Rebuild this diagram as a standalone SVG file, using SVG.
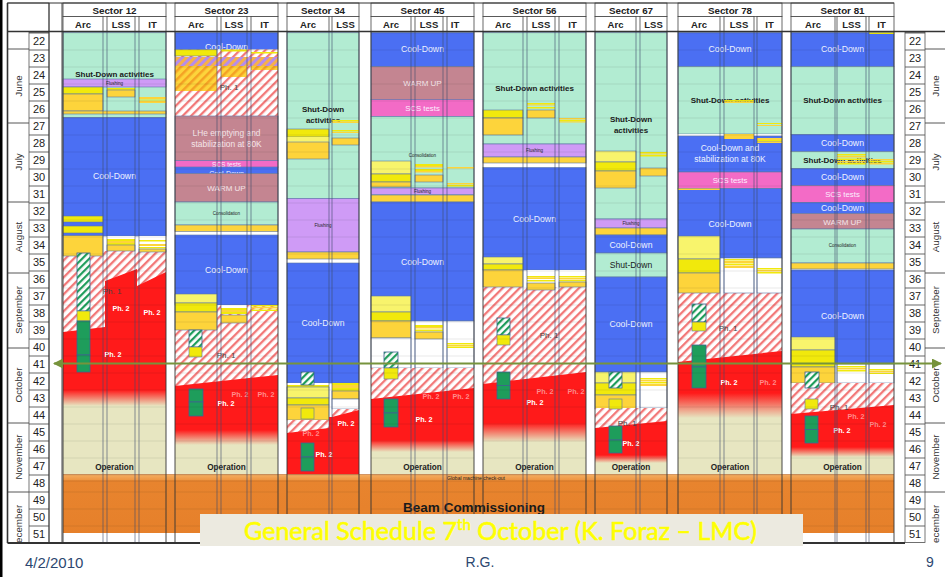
<svg xmlns="http://www.w3.org/2000/svg" width="945" height="577" viewBox="0 0 945 577">
<defs>
<style>
text{font-family:"Liberation Sans",Arial,sans-serif}
.m{fill:#B2ECD2}.b{fill:#4B6FF3}.p{fill:#CF9BF6}.w{fill:#C48591}.k{fill:#F36BC6}.y{fill:#F1E90C}.ly{fill:#F8F46C}.o{fill:#FDD43B}.wh{fill:#fff}.h{fill:url(#hr)}.bg{fill:#E7E6C1}.ph{fill:url(#hp)}.oh{fill:url(#ho)}
.bd{stroke:#5B75A6;stroke-width:0.6}
.gh{fill:url(#hg);stroke:#3F6390;stroke-width:0.8}
.dg{fill:#1E9D5B;stroke:#3F6390;stroke-width:0.8}
.hc{fill:#fff;stroke:#444;stroke-width:0.8}
.hd{font-size:9.8px;font-weight:bold;fill:#222;text-anchor:middle}
.sh{font-size:9.5px;font-weight:bold;fill:#222;text-anchor:middle}
.wk{font-size:11px;fill:#222;text-anchor:middle}
.mo{font-size:9.8px;fill:#333;text-anchor:middle}
.cd{font-size:8.7px;fill:#EEF2FF;text-anchor:middle}
.sd{font-size:8px;font-weight:bold;fill:#1a1a1a;text-anchor:middle}
.op{font-size:8.2px;font-weight:bold;fill:#222;text-anchor:middle}
.p2{font-size:7.2px;font-weight:bold;fill:#fff;text-anchor:middle}
.pf{font-size:7.2px;font-weight:bold;fill:#FF8C8C;text-anchor:middle}
.p1{font-size:8px;fill:#444;text-anchor:middle}
.tn{font-size:4.5px;fill:#222;text-anchor:middle}
.wu{font-size:8px;fill:#F5E6EA;text-anchor:middle}
.sc{font-size:7.8px;fill:#FBEFFF;text-anchor:middle}
.vl{fill:none;stroke:#3C4C6C;stroke-width:0.8;stroke-opacity:0.75}
</style>
<pattern id="hr" width="6" height="6" patternUnits="userSpaceOnUse" patternTransform="rotate(-45)"><rect width="6" height="6" fill="#fff"/><rect width="6" height="2.3" fill="#F27878"/></pattern>
<pattern id="hg" width="5" height="5" patternUnits="userSpaceOnUse" patternTransform="rotate(-45)"><rect width="5" height="5" fill="#fff"/><rect width="5" height="2.2" fill="#1E9D5B"/></pattern>
<pattern id="hp" width="6" height="6" patternUnits="userSpaceOnUse" patternTransform="rotate(-45)"><rect width="6" height="6" fill="#F6B04A"/><rect width="6" height="3" fill="#B58CEB"/></pattern>
<pattern id="ho" width="6" height="6" patternUnits="userSpaceOnUse" patternTransform="rotate(-45)"><rect width="6" height="6" fill="#FDD43B"/><rect width="6" height="2.5" fill="#F4A224"/></pattern>
<pattern id="rows" width="10" height="17" patternUnits="userSpaceOnUse" x="0" y="32.5"><rect width="10" height="0.8" fill="#000" fill-opacity="0.1"/></pattern>
<pattern id="wkp" width="20" height="17" patternUnits="userSpaceOnUse" x="0" y="32.5"><rect width="20" height="0.9" fill="#555"/></pattern>
<linearGradient id="f12" gradientUnits="userSpaceOnUse" x1="0" y1="390" x2="0" y2="406"><stop offset="0" stop-color="#FF1A1A"/><stop offset="1" stop-color="#FF1A1A" stop-opacity="0"/></linearGradient>
<linearGradient id="f23" gradientUnits="userSpaceOnUse" x1="0" y1="430" x2="0" y2="445"><stop offset="0" stop-color="#FF1A1A"/><stop offset="1" stop-color="#FF1A1A" stop-opacity="0"/></linearGradient>
<linearGradient id="f45" gradientUnits="userSpaceOnUse" x1="0" y1="440" x2="0" y2="452"><stop offset="0" stop-color="#FF1A1A"/><stop offset="1" stop-color="#FF1A1A" stop-opacity="0"/></linearGradient>
<linearGradient id="f56" gradientUnits="userSpaceOnUse" x1="0" y1="423" x2="0" y2="442"><stop offset="0" stop-color="#FF1A1A"/><stop offset="1" stop-color="#FF1A1A" stop-opacity="0"/></linearGradient>
<linearGradient id="f67" gradientUnits="userSpaceOnUse" x1="0" y1="455" x2="0" y2="463"><stop offset="0" stop-color="#FF1A1A"/><stop offset="1" stop-color="#FF1A1A" stop-opacity="0"/></linearGradient>
<linearGradient id="f78" gradientUnits="userSpaceOnUse" x1="0" y1="393" x2="0" y2="418"><stop offset="0" stop-color="#FF1A1A"/><stop offset="1" stop-color="#FF1A1A" stop-opacity="0"/></linearGradient>
<linearGradient id="f81" gradientUnits="userSpaceOnUse" x1="0" y1="447" x2="0" y2="457"><stop offset="0" stop-color="#FF1A1A"/><stop offset="1" stop-color="#FF1A1A" stop-opacity="0"/></linearGradient>
<linearGradient id="og" gradientUnits="userSpaceOnUse" x1="0" y1="474.5" x2="0" y2="533"><stop offset="0" stop-color="#F4AE62"/><stop offset="0.1" stop-color="#EE9440"/><stop offset="0.13" stop-color="#E8842E"/><stop offset="1" stop-color="#E6802A"/></linearGradient>
<clipPath id="clipB"><rect x="0" y="0" width="945" height="543"/></clipPath>
<marker id="ah" viewBox="0 0 10 10" refX="9" refY="5" markerWidth="5.5" markerHeight="5" orient="auto-start-reverse" markerUnits="strokeWidth"><path d="M0,0L10,5L0,10Z" fill="#77933C"/></marker>
</defs>
<rect width="945" height="577" fill="#fff"/>
<rect x="0" y="0" width="2.5" height="577" fill="#000"/>

<g id="axis-left">
<rect x="7.5" y="3" width="41.5" height="28.5" fill="#fff" stroke="#444" stroke-width="0.8"/>
<rect x="29" y="32.5" width="20" height="510" fill="url(#wkp)" stroke="#555" stroke-width="0.8"/>
<path d="M8,49H29M8,123H29M8,202H29M8,273H29M8,348H29M8,423H29M8,492H29" stroke="#444" stroke-width="0.9"/>
<g clip-path="url(#clipB)">
<text class="mo" transform="translate(21.5,86) rotate(-90)">June</text>
<text class="mo" transform="translate(21.5,162) rotate(-90)">July</text>
<text class="mo" transform="translate(21.5,237) rotate(-90)">August</text>
<text class="mo" transform="translate(21.5,310) rotate(-90)">September</text>
<text class="mo" transform="translate(21.5,385) rotate(-90)">October</text>
<text class="mo" transform="translate(21.5,457) rotate(-90)">November</text>
<text class="mo" transform="translate(21.5,550) rotate(-90)" style="text-anchor:start">December</text>
</g>
<text class="wk" x="39" y="45">22</text><text class="wk" x="39" y="62">23</text><text class="wk" x="39" y="79">24</text><text class="wk" x="39" y="96">25</text><text class="wk" x="39" y="113">26</text><text class="wk" x="39" y="130">27</text><text class="wk" x="39" y="147">28</text><text class="wk" x="39" y="164">29</text><text class="wk" x="39" y="181">30</text><text class="wk" x="39" y="198">31</text><text class="wk" x="39" y="215">32</text><text class="wk" x="39" y="232">33</text><text class="wk" x="39" y="249">34</text><text class="wk" x="39" y="266">35</text><text class="wk" x="39" y="283">36</text><text class="wk" x="39" y="300">37</text><text class="wk" x="39" y="317">38</text><text class="wk" x="39" y="334">39</text><text class="wk" x="39" y="351">40</text><text class="wk" x="39" y="368">41</text><text class="wk" x="39" y="385">42</text><text class="wk" x="39" y="402">43</text><text class="wk" x="39" y="419">44</text><text class="wk" x="39" y="436">45</text><text class="wk" x="39" y="453">46</text><text class="wk" x="39" y="470">47</text><text class="wk" x="39" y="487">48</text><text class="wk" x="39" y="504">49</text><text class="wk" x="39" y="521">50</text><text class="wk" x="39" y="538">51</text>
</g>
<g id="axis-right">
<rect x="905" y="32.5" width="20" height="510" fill="url(#wkp)" stroke="#555" stroke-width="0.8"/>
<path d="M925,49H945M925,123H945M925,202H945M925,273H945M925,348H945M925,423H945M925,492H945" stroke="#444" stroke-width="0.9"/>
<g clip-path="url(#clipB)">
<text class="mo" transform="translate(938.5,86) rotate(-90)">June</text>
<text class="mo" transform="translate(938.5,162) rotate(-90)">July</text>
<text class="mo" transform="translate(938.5,237) rotate(-90)">August</text>
<text class="mo" transform="translate(938.5,310) rotate(-90)">September</text>
<text class="mo" transform="translate(938.5,385) rotate(-90)">October</text>
<text class="mo" transform="translate(938.5,457) rotate(-90)">November</text>
<text class="mo" transform="translate(938.5,550) rotate(-90)" style="text-anchor:start">December</text>
</g>
<text class="wk" x="915" y="45">22</text><text class="wk" x="915" y="62">23</text><text class="wk" x="915" y="79">24</text><text class="wk" x="915" y="96">25</text><text class="wk" x="915" y="113">26</text><text class="wk" x="915" y="130">27</text><text class="wk" x="915" y="147">28</text><text class="wk" x="915" y="164">29</text><text class="wk" x="915" y="181">30</text><text class="wk" x="915" y="198">31</text><text class="wk" x="915" y="215">32</text><text class="wk" x="915" y="232">33</text><text class="wk" x="915" y="249">34</text><text class="wk" x="915" y="266">35</text><text class="wk" x="915" y="283">36</text><text class="wk" x="915" y="300">37</text><text class="wk" x="915" y="317">38</text><text class="wk" x="915" y="334">39</text><text class="wk" x="915" y="351">40</text><text class="wk" x="915" y="368">41</text><text class="wk" x="915" y="385">42</text><text class="wk" x="915" y="402">43</text><text class="wk" x="915" y="419">44</text><text class="wk" x="915" y="436">45</text><text class="wk" x="915" y="453">46</text><text class="wk" x="915" y="470">47</text><text class="wk" x="915" y="487">48</text><text class="wk" x="915" y="504">49</text><text class="wk" x="915" y="521">50</text><text class="wk" x="915" y="538">51</text>
</g>

<g id="header">
<rect class="hc" x="63" y="3" width="103" height="13.5"/><text class="hd" x="114.5" y="13.5">Sector 12</text>
<rect class="hc" x="63" y="16.5" width="40" height="15"/><rect class="hc" x="107" y="16.5" width="28" height="15"/><rect class="hc" x="139" y="16.5" width="27" height="15"/>
<text class="sh" x="83" y="27.5">Arc</text><text class="sh" x="121" y="27.5">LSS</text><text class="sh" x="152.5" y="27.5">IT</text>
<rect class="hc" x="175" y="3" width="103" height="13.5"/><text class="hd" x="226.5" y="13.5">Sector 23</text>
<rect class="hc" x="175" y="16.5" width="42" height="15"/><rect class="hc" x="221" y="16.5" width="26" height="15"/><rect class="hc" x="251" y="16.5" width="27" height="15"/>
<text class="sh" x="196" y="27.5">Arc</text><text class="sh" x="234" y="27.5">LSS</text><text class="sh" x="264.5" y="27.5">IT</text>
<rect class="hc" x="287" y="3" width="72" height="13.5"/><text class="hd" x="323" y="13.5">Sector 34</text>
<rect class="hc" x="287" y="16.5" width="42" height="15"/><rect class="hc" x="332" y="16.5" width="27" height="15"/>
<text class="sh" x="308" y="27.5">Arc</text><text class="sh" x="345.5" y="27.5">LSS</text>
<rect class="hc" x="371" y="3" width="103" height="13.5"/><text class="hd" x="422.5" y="13.5">Sector 45</text>
<rect class="hc" x="371" y="16.5" width="40" height="15"/><rect class="hc" x="415" y="16.5" width="28" height="15"/><rect class="hc" x="447" y="16.5" width="27" height="15"/>
<text class="sh" x="391" y="27.5">Arc</text><text class="sh" x="429" y="27.5">LSS</text><text class="sh" x="455" y="27.5">IT</text>
<rect class="hc" x="483" y="3" width="103" height="13.5"/><text class="hd" x="534.5" y="13.5">Sector 56</text>
<rect class="hc" x="483" y="16.5" width="40" height="15"/><rect class="hc" x="527" y="16.5" width="28" height="15"/><rect class="hc" x="559" y="16.5" width="27" height="15"/>
<text class="sh" x="503" y="27.5">Arc</text><text class="sh" x="541" y="27.5">LSS</text><text class="sh" x="572.5" y="27.5">IT</text>
<rect class="hc" x="595" y="3" width="72" height="13.5"/><text class="hd" x="631" y="13.5">Sector 67</text>
<rect class="hc" x="595" y="16.5" width="41" height="15"/><rect class="hc" x="640" y="16.5" width="27" height="15"/>
<text class="sh" x="615.5" y="27.5">Arc</text><text class="sh" x="653.5" y="27.5">LSS</text>
<rect class="hc" x="678" y="3" width="104" height="13.5"/><text class="hd" x="730" y="13.5">Sector 78</text>
<rect class="hc" x="678" y="16.5" width="42" height="15"/><rect class="hc" x="724" y="16.5" width="30" height="15"/><rect class="hc" x="757" y="16.5" width="25" height="15"/>
<text class="sh" x="699" y="27.5">Arc</text><text class="sh" x="739" y="27.5">LSS</text><text class="sh" x="769.5" y="27.5">IT</text>
<rect class="hc" x="791" y="3" width="103" height="13.5"/><text class="hd" x="842.5" y="13.5">Sector 81</text>
<rect class="hc" x="791" y="16.5" width="44" height="15"/><rect class="hc" x="837" y="16.5" width="29" height="15"/><rect class="hc" x="869" y="16.5" width="25" height="15"/>
<text class="sh" x="813" y="27.5">Arc</text><text class="sh" x="851.5" y="27.5">LSS</text><text class="sh" x="881.5" y="27.5">IT</text>
</g>

<g id="sector12">
<rect class="m bd" x="63" y="32.5" width="103" height="85"/>
<text class="sd" x="114.5" y="77">Shut-Down activities</text>
<rect class="p bd" x="63" y="79" width="103" height="8"/>
<text class="tn" x="114.5" y="84.5">Flushing</text>
<rect class="y bd" x="63" y="87" width="40" height="7"/>
<rect class="o bd" x="63" y="94" width="40" height="17"/>
<rect class="y" x="107" y="88" width="28" height="2"/>
<rect class="o bd" x="107" y="90" width="28" height="7"/>
<rect class="o" x="139" y="97" width="27" height="2"/><rect class="y" x="139" y="99.5" width="27" height="1"/><rect class="o" x="139" y="101" width="27" height="2"/>
<rect class="o bd" x="63" y="111" width="103" height="3"/>
<rect class="b bd" x="63" y="117.5" width="103" height="118.5"/>
<text class="cd" x="114.5" y="179">Cool-Down</text>
<rect class="h" x="63" y="251" width="103" height="90"/>
<rect class="y bd" x="63" y="216" width="40" height="6"/>
<rect class="y bd" x="63" y="226" width="40" height="7"/>
<rect class="o bd" x="63" y="235.5" width="40" height="20.5"/>
<rect class="wh" x="107" y="236" width="28" height="3"/><rect class="y" x="107" y="239" width="28" height="2"/><rect class="o" x="107" y="241" width="28" height="2"/><rect class="y" x="107" y="243" width="28" height="2"/><rect class="o bd" x="107" y="245" width="28" height="6"/>
<rect class="wh" x="139" y="236" width="27" height="16"/><rect class="y" x="139" y="240" width="27" height="1.5"/><rect class="o" x="139" y="244" width="27" height="2"/><rect class="y" x="139" y="247" width="27" height="1.5"/><rect class="o bd" x="139" y="249" width="27" height="3"/>
<rect class="bg" x="63" y="390" width="103" height="84.5"/>
<path fill="url(#f12)" d="M63,332L105,327L105,281L137,269L137,286L166,272V406H63Z"/>
<text class="p1" x="112" y="294">Ph. 1</text>
<text class="p2" x="121" y="311">Ph. 2</text>
<text class="p2" x="152" y="315">Ph. 2</text>
<text class="p2" x="113" y="357">Ph. 2</text>
<rect class="gh" x="77" y="253" width="13" height="58"/>
<rect class="y bd" x="77" y="311" width="13" height="10"/>
<rect class="dg" x="77" y="321" width="13" height="34"/><rect class="dg" x="77" y="355" width="13" height="17"/>
<text class="op" x="114.5" y="470">Operation</text>
</g>

<g id="sector23">
<rect class="b bd" x="175" y="32.5" width="103" height="17"/>
<text class="cd" x="226.5" y="50">Cool-Down</text>
<rect class="h" x="175" y="49.5" width="103" height="66.5"/>
<rect class="y bd" x="175" y="49.5" width="42" height="6.5"/>
<rect class="y" x="221" y="49.5" width="26" height="2"/>
<rect class="y" x="251" y="52" width="27" height="1.5"/>
<rect class="ph" x="175" y="57" width="103" height="9"/>
<rect class="oh" x="175" y="66" width="42" height="25"/>
<rect class="oh" x="221" y="66" width="26" height="11"/>
<rect class="oh" x="251" y="66" width="27" height="4"/>
<text class="p1" x="229" y="90">Ph. 1</text>
<rect class="w bd" x="175" y="116" width="103" height="44.5"/>
<text class="cd" x="226.5" y="136" style="font-size:8.4px;fill:#F5E6EA">LHe emptying and</text>
<text class="cd" x="226.5" y="147" style="font-size:8.4px;fill:#F5E6EA">stabilization at 80K</text>
<rect class="k bd" x="175" y="160.5" width="103" height="7"/>
<text class="sc" x="226.5" y="166.5" style="font-size:6.5px">SCS tests</text>
<rect class="b bd" x="175" y="167" width="103" height="6.5"/>
<text class="cd" x="226.5" y="175.5" style="font-size:7px">Cool-Down</text>
<rect class="w bd" x="175" y="173.5" width="103" height="28.5"/>
<text class="wu" x="226.5" y="191">WARM UP</text>
<rect class="m bd" x="175" y="202" width="103" height="23"/>
<text class="tn" x="226.5" y="214.5">Consolidation</text>
<rect class="o bd" x="175" y="225" width="103" height="6.5"/>
<rect class="b bd" x="175" y="235" width="103" height="70"/>
<text class="cd" x="226.5" y="273">Cool-Down</text>
<rect class="h" x="175" y="305" width="103" height="85"/>
<rect class="ly bd" x="175" y="294" width="42" height="9"/>
<rect class="y bd" x="175" y="303" width="42" height="9"/>
<rect class="o bd" x="175" y="312" width="42" height="18"/>
<rect class="wh" x="221" y="305" width="26" height="3"/><rect class="y" x="221" y="308" width="26" height="2"/><rect class="o" x="221" y="310" width="26" height="2"/><rect class="y" x="221" y="312" width="26" height="2"/><rect class="o bd" x="221" y="315" width="26" height="8"/>
<rect class="y" x="251" y="305" width="27" height="1.5"/><rect class="o" x="251" y="307" width="27" height="1.5"/><rect class="y" x="251" y="309.5" width="27" height="1.5"/>
<rect class="gh" x="189" y="330" width="13" height="17"/>
<rect class="y bd" x="189" y="347" width="13" height="10"/>
<text class="p1" x="226" y="358">Ph. 1</text>
<rect class="bg" x="175" y="430" width="103" height="44.5"/>
<path fill="url(#f23)" d="M175,386L278,375V445H175Z"/>
<text class="pf" x="240" y="397">Ph. 2</text><text class="pf" x="266" y="397">Ph. 2</text>
<rect class="dg" x="189" y="389" width="14" height="13"/><rect class="dg" x="189" y="402" width="14" height="14"/>
<text class="p2" x="226" y="406">Ph. 2</text>
<text class="op" x="226.5" y="470">Operation</text>
</g>

<g id="sector34">
<rect class="m bd" x="287" y="32.5" width="72" height="166"/>
<text class="sd" x="323" y="112">Shut-Down</text>
<text class="sd" x="323" y="123">activities</text>
<rect class="y" x="332" y="120" width="27" height="1.5"/><rect class="o" x="332" y="121.5" width="27" height="1.5"/><rect class="y" x="332" y="130" width="27" height="1.5"/><rect class="o" x="332" y="132" width="27" height="1"/>
<rect class="o bd" x="332" y="138" width="27" height="7"/>
<rect class="y bd" x="287" y="129" width="42" height="8"/>
<rect class="ly" x="287" y="137" width="42" height="5"/>
<rect class="o bd" x="287" y="142" width="42" height="17"/>
<rect class="p bd" x="287" y="198.5" width="72" height="53.5"/>
<text class="tn" x="323" y="227">Flushing</text>
<rect class="o bd" x="287" y="252" width="72" height="7"/>
<rect class="b bd" x="287" y="263" width="72" height="120"/>
<text class="cd" x="323" y="326">Cool-Down</text>
<rect class="wh" x="287" y="383" width="42" height="2"/>
<rect class="y" x="287" y="385" width="42" height="2"/>
<rect class="ly bd" x="287" y="387" width="42" height="11"/>
<rect class="y bd" x="287" y="398" width="42" height="7"/>
<rect class="o bd" x="287" y="405" width="42" height="15"/>
<rect class="y" x="332" y="383" width="27" height="2"/><rect class="o" x="332" y="385" width="27" height="3"/><rect class="y" x="332" y="388" width="27" height="3"/><rect class="o bd" x="332" y="391" width="27" height="8"/>
<rect class="wh bd" x="332" y="399" width="27" height="10"/>
<rect class="h" x="287" y="420" width="42" height="15"/>
<rect class="h" x="332" y="409" width="27" height="10"/>
<path fill="#FF1A1A" d="M287,433L329,428V474.5H287Z"/>
<path fill="#FF1A1A" d="M329,474.5V417H332L359,410V474.5Z"/>
<rect class="gh" x="301" y="372" width="13" height="13"/>
<rect class="y bd" x="301" y="408" width="13" height="11"/>
<text class="pf" x="311" y="436">Ph. 2</text>
<text class="p2" x="346" y="426">Ph. 2</text>
<rect class="dg" x="301" y="443" width="13" height="14"/><rect class="dg" x="301" y="457" width="13" height="14"/>
<text class="p2" x="324" y="457">Ph. 2</text>
</g>

<g id="sector45">
<rect class="b bd" x="371" y="32.5" width="103" height="34"/>
<text class="cd" x="422.5" y="52">Cool-Down</text>
<rect class="w bd" x="371" y="66.5" width="103" height="33"/>
<text class="wu" x="422.5" y="86">WARM UP</text>
<rect class="k bd" x="371" y="99.5" width="103" height="17"/>
<text class="sc" x="422.5" y="111">SCS tests</text>
<rect class="m bd" x="371" y="116.5" width="103" height="71.5"/>
<text class="tn" x="422.5" y="157">Consolidation</text>
<rect class="ly bd" x="371" y="161" width="40" height="13"/>
<rect class="y bd" x="371" y="174" width="40" height="8"/>
<rect class="o bd" x="371" y="182" width="40" height="5"/>
<rect class="y" x="415" y="164" width="28" height="2"/><rect class="o" x="415" y="166" width="28" height="1.5"/><rect class="y" x="415" y="169" width="28" height="2"/><rect class="o" x="415" y="171" width="28" height="1.5"/>
<rect class="o bd" x="415" y="175" width="28" height="7"/>
<rect class="o" x="447" y="167" width="27" height="1.5"/><rect class="o" x="447" y="183" width="27" height="1.5"/><rect class="y" x="447" y="185" width="27" height="1.5"/>
<rect class="p bd" x="371" y="188" width="103" height="6.5"/>
<text class="tn" x="422.5" y="193">Flushing</text>
<rect class="o bd" x="371" y="195" width="103" height="7"/>
<rect class="b bd" x="371" y="202" width="103" height="119"/>
<text class="cd" x="422.5" y="265">Cool-Down</text>
<rect class="ly bd" x="371" y="296" width="40" height="16"/>
<rect class="y bd" x="371" y="312" width="40" height="9"/>
<rect class="o bd" x="371" y="321" width="40" height="17"/>
<rect class="wh bd" x="371" y="338" width="40" height="30"/>
<rect class="wh bd" x="415" y="321" width="28" height="47"/>
<rect class="y" x="415" y="325" width="28" height="2"/><rect class="o" x="415" y="327" width="28" height="1.5"/><rect class="y" x="415" y="329.5" width="28" height="2"/><rect class="o bd" x="415" y="332" width="28" height="7"/>
<rect class="wh bd" x="447" y="321" width="27" height="47"/>
<rect class="y" x="447" y="343" width="27" height="1.5"/><rect class="o" x="447" y="345" width="27" height="1.2"/><rect class="y" x="447" y="346.5" width="27" height="1.5"/>
<rect class="h" x="371" y="368" width="103" height="32"/>
<rect class="gh" x="384" y="352" width="14" height="16"/>
<rect class="y bd" x="384" y="368" width="14" height="11"/>
<rect class="bg" x="371" y="440" width="103" height="34.5"/>
<path fill="url(#f45)" d="M371,399L474,388V452H371Z"/>
<text class="pf" x="431" y="399">Ph. 2</text><text class="pf" x="461" y="399">Ph. 2</text>
<rect class="dg" x="384" y="399" width="14" height="14"/><rect class="dg" x="384" y="413" width="14" height="14"/>
<text class="p2" x="424" y="422">Ph. 2</text>
<text class="op" x="422.5" y="470">Operation</text>
</g>

<g id="sector56">
<rect class="m bd" x="483" y="32.5" width="103" height="111.5"/>
<text class="sd" x="534.5" y="91">Shut-Down activities</text>
<rect class="y" x="527" y="103" width="28" height="1.5"/><rect class="o" x="527" y="104.5" width="28" height="1"/><rect class="y" x="527" y="107" width="28" height="1.5"/>
<rect class="o bd" x="527" y="110" width="28" height="8"/>
<rect class="y bd" x="483" y="110" width="40" height="8"/>
<rect class="o bd" x="483" y="118" width="40" height="17"/>
<rect class="o" x="559" y="118" width="27" height="1.5"/><rect class="y" x="559" y="120" width="27" height="1.5"/><rect class="o" x="559" y="121.5" width="27" height="1"/>
<rect class="p bd" x="483" y="144" width="103" height="13"/>
<text class="tn" x="534.5" y="151.5">Flushing</text>
<rect class="o bd" x="483" y="157" width="103" height="6"/>
<rect class="b bd" x="483" y="167.5" width="103" height="102.5"/>
<text class="cd" x="534.5" y="222">Cool-Down</text>
<rect class="h" x="483" y="287" width="103" height="105"/>
<rect class="ly bd" x="483" y="257" width="40" height="7"/>
<rect class="y bd" x="483" y="264" width="40" height="6"/>
<rect class="o bd" x="483" y="270" width="40" height="17"/>
<rect class="wh" x="527" y="270" width="28" height="6"/><rect class="y" x="527" y="276" width="28" height="1.5"/><rect class="o" x="527" y="277.5" width="28" height="1.5"/><rect class="y" x="527" y="280" width="28" height="1.5"/><rect class="o bd" x="527" y="283" width="28" height="7"/>
<rect class="wh" x="559" y="270" width="27" height="6"/><rect class="y" x="559" y="276" width="27" height="1.5"/><rect class="o" x="559" y="278" width="27" height="1.5"/><rect class="y" x="559" y="280" width="27" height="1.5"/><rect class="o bd" x="559" y="282" width="27" height="5"/>
<rect class="gh" x="497" y="318" width="13" height="17"/>
<rect class="y bd" x="497" y="335" width="13" height="10"/>
<text class="p1" x="549" y="338">Ph. 1</text>
<rect class="bg" x="483" y="423" width="103" height="51.5"/>
<path fill="url(#f56)" d="M483,384L586,372V442H483Z"/>
<text class="pf" x="545" y="394">Ph. 2</text><text class="pf" x="576" y="394">Ph. 2</text>
<rect class="dg" x="497" y="372" width="13" height="13.5"/><rect class="dg" x="497" y="385.5" width="13" height="13.5"/>
<text class="p2" x="535" y="405">Ph. 2</text>
<text class="op" x="534.5" y="470">Operation</text>
</g>

<g id="sector67">
<rect class="m bd" x="595" y="32.5" width="72" height="186.5"/>
<text class="sd" x="631" y="122">Shut-Down</text>
<text class="sd" x="631" y="133">activities</text>
<rect class="ly bd" x="595" y="151" width="41" height="11"/>
<rect class="y bd" x="595" y="162" width="41" height="9"/>
<rect class="o bd" x="595" y="171" width="41" height="17"/>
<rect class="y" x="640" y="152" width="27" height="1.5"/><rect class="o" x="640" y="153.5" width="27" height="1"/><rect class="y" x="640" y="155" width="27" height="1.5"/>
<rect class="o bd" x="640" y="168" width="27" height="8"/>
<rect class="p bd" x="595" y="219" width="72" height="9"/>
<text class="tn" x="631" y="225">Flushing</text>
<rect class="o bd" x="595" y="228" width="72" height="7"/>
<rect class="b bd" x="595" y="235" width="72" height="18"/>
<text class="cd" x="631" y="247.5">Cool-Down</text>
<rect class="m bd" x="595" y="253" width="72" height="24"/>
<text class="sd" x="631" y="268" style="font-weight:normal;font-size:8.6px">Shut-Down</text>
<rect class="b bd" x="595" y="277" width="72" height="95"/>
<text class="cd" x="631" y="327">Cool-Down</text>
<rect class="ly bd" x="595" y="372" width="41" height="11"/>
<rect class="y bd" x="595" y="383" width="41" height="12"/>
<rect class="o bd" x="595" y="395" width="41" height="14"/>
<rect class="wh bd" x="640" y="372" width="27" height="36"/>
<rect class="y" x="640" y="378" width="27" height="1.5"/><rect class="o" x="640" y="380" width="27" height="1.5"/><rect class="y" x="640" y="382" width="27" height="1.5"/><rect class="o" x="640" y="384" width="27" height="2"/>
<rect class="h" x="595" y="408" width="72" height="22"/>
<rect class="gh" x="609" y="372" width="13" height="16"/>
<rect class="y bd" x="609" y="399" width="13" height="10"/>
<rect class="bg" x="595" y="455" width="72" height="19.5"/>
<path fill="url(#f67)" d="M595,428L667,421V463H595Z"/>
<text class="p1" x="627" y="426">Ph. 1</text>
<rect class="dg" x="609" y="426" width="13" height="14"/><rect class="dg" x="609" y="440" width="13" height="13"/>
<text class="p2" x="631" y="446">Ph. 2</text>
<text class="op" x="631" y="470">Operation</text>
</g>

<g id="sector78">
<rect class="b bd" x="678" y="32.5" width="104" height="34"/>
<text class="cd" x="730" y="52">Cool-Down</text>
<rect class="m bd" x="678" y="66.5" width="104" height="67.5"/>
<text class="sd" x="730" y="103">Shut-Down activities</text>
<rect class="y" x="724" y="100" width="30" height="1.5"/><rect class="o" x="724" y="101.5" width="30" height="1.5"/>
<rect class="y" x="757" y="123" width="25" height="1"/><rect class="o" x="757" y="125" width="25" height="1"/>
<rect class="wh" x="678" y="134" width="104" height="2"/>
<rect class="b bd" x="678" y="136" width="104" height="36"/>
<rect class="o" x="724" y="134" width="30" height="5"/>
<rect class="o" x="757" y="138" width="25" height="2"/><rect class="y" x="757" y="140" width="25" height="1.5"/><rect class="o" x="757" y="141.5" width="25" height="1.5"/>
<text class="cd" x="730" y="151" style="font-size:8.5px">Cool-Down and</text>
<text class="cd" x="730" y="162" style="font-size:8.5px">stabilization at 80K</text>
<rect class="k bd" x="678" y="172" width="104" height="16.5"/>
<text class="sc" x="730" y="183">SCS tests</text>
<rect class="b bd" x="678" y="188.5" width="104" height="69.5"/>
<rect class="o" x="678" y="188.5" width="42" height="1.5"/>
<text class="cd" x="730" y="227">Cool-Down</text>
<rect class="h" x="678" y="293" width="104" height="70"/>
<rect class="ly bd" x="678" y="236" width="42" height="23"/>
<rect class="y bd" x="678" y="259" width="42" height="14"/>
<rect class="o bd" x="678" y="273" width="42" height="20"/>
<rect class="wh bd" x="724" y="258" width="30" height="35"/>
<rect class="y" x="724" y="259" width="30" height="1.5"/><rect class="o" x="724" y="261" width="30" height="2"/><rect class="y" x="724" y="263.5" width="30" height="1.5"/><rect class="o" x="724" y="265.5" width="30" height="2.5"/>
<rect class="wh bd" x="757" y="258" width="25" height="35"/>
<rect class="y" x="757" y="268" width="25" height="1.5"/><rect class="o" x="757" y="270" width="25" height="1.5"/><rect class="y" x="757" y="272" width="25" height="1.5"/>
<rect class="gh" x="692" y="304" width="14" height="18"/>
<rect class="y bd" x="692" y="322" width="14" height="9"/>
<text class="p1" x="728" y="331">Ph. 1</text>
<rect class="bg" x="678" y="393" width="104" height="81.5"/>
<path fill="url(#f78)" d="M678,362L782,351V418H678Z"/>
<text class="pf" x="768" y="385">Ph. 2</text>
<rect class="dg" x="692" y="345" width="14" height="22"/><rect class="dg" x="692" y="367" width="14" height="21"/>
<text class="p2" x="729" y="385">Ph. 2</text>
<text class="op" x="730" y="470">Operation</text>
</g>

<g id="sector81">
<rect class="b bd" x="791" y="32.5" width="103" height="34"/>
<rect class="y" x="869" y="32.5" width="25" height="1.5"/>
<text class="cd" x="842.5" y="52">Cool-Down</text>
<rect class="m bd" x="791" y="66.5" width="103" height="68"/>
<text class="sd" x="842.5" y="103">Shut-Down activities</text>
<rect class="b bd" x="791" y="134.5" width="103" height="17"/>
<text class="cd" x="842.5" y="145.5">Cool-Down</text>
<rect class="m bd" x="791" y="151.5" width="103" height="17"/>
<text class="sd" x="842.5" y="162.5">Shut-Down activities</text>
<rect class="y" x="837" y="154" width="29" height="1.5"/><rect class="o" x="837" y="156" width="29" height="1.5"/><rect class="y" x="837" y="158.5" width="29" height="1.5"/><rect class="o" x="837" y="161" width="29" height="1.5"/><rect class="y" x="837" y="163" width="29" height="1.5"/>
<rect class="o" x="869" y="159" width="25" height="1.5"/><rect class="y" x="869" y="161" width="25" height="1.5"/><rect class="o" x="869" y="163" width="25" height="1.5"/>
<rect class="b bd" x="791" y="168.5" width="103" height="17"/>
<text class="cd" x="842.5" y="179.5">Cool-Down</text>
<rect class="k bd" x="791" y="185.5" width="103" height="17"/>
<text class="sc" x="842.5" y="196.5">SCS tests</text>
<rect class="b bd" x="791" y="202.5" width="103" height="11"/>
<text class="cd" x="842.5" y="211">Cool-Down</text>
<rect class="w bd" x="791" y="213.5" width="103" height="15.5"/>
<text class="wu" x="842.5" y="224.5">WARM UP</text>
<rect class="m bd" x="791" y="229" width="103" height="34"/>
<text class="tn" x="842.5" y="246.5">Consolidation</text>
<rect class="o bd" x="791" y="263" width="103" height="6"/>
<rect class="b bd" x="791" y="270" width="103" height="94"/>
<text class="cd" x="842.5" y="319">Cool-Down</text>
<rect class="ly bd" x="791" y="337" width="44" height="13"/>
<rect class="y bd" x="791" y="350" width="44" height="17"/>
<rect class="o bd" x="791" y="367" width="44" height="16"/>
<rect class="wh bd" x="837" y="364" width="29" height="19"/>
<rect class="y" x="837" y="366" width="29" height="1.5"/><rect class="o" x="837" y="368" width="29" height="1.5"/><rect class="y" x="837" y="370" width="29" height="1.5"/>
<rect class="wh bd" x="869" y="364" width="25" height="19"/>
<rect class="y" x="869" y="369" width="25" height="1.5"/><rect class="o" x="869" y="371" width="25" height="1.5"/><rect class="y" x="869" y="373" width="25" height="1"/>
<rect class="h" x="791" y="383" width="103" height="32"/>
<rect class="gh" x="805" y="372" width="14" height="16"/>
<rect class="y bd" x="805" y="399" width="13" height="10"/>
<rect class="bg" x="791" y="447" width="103" height="27.5"/>
<path fill="url(#f81)" d="M791,414L894,405V457H791Z"/>
<text class="p1" x="839" y="410">Ph. 1</text>
<text class="pf" x="856" y="419">Ph. 2</text><text class="pf" x="878" y="427">Ph. 2</text>
<rect class="dg" x="805" y="416" width="13" height="13.5"/><rect class="dg" x="805" y="429.5" width="13" height="13.5"/>
<text class="p2" x="842" y="433">Ph. 2</text>
<text class="op" x="842.5" y="470">Operation</text>
</g>

<g id="beam-commissioning">
<rect x="63" y="474.5" width="831" height="58.5" fill="url(#og)"/>
<path d="M63,481H894" stroke="#C8691F" stroke-width="0.8"/>
<path d="M63,474.5H894" stroke="#B86A30" stroke-width="0.6"/>
<text class="tn" x="476" y="479.5" style="font-size:5px">Global machine check-out</text>
<text x="474" y="512" style="font-size:13.5px;font-weight:bold;fill:#1a1a1a;text-anchor:middle">Beam Commissioning</text>
</g>

<g id="grid">
<rect x="63" y="32.5" width="103" height="500.5" fill="url(#rows)"/>
<rect x="175" y="32.5" width="103" height="500.5" fill="url(#rows)"/>
<rect x="287" y="32.5" width="72" height="500.5" fill="url(#rows)"/>
<rect x="371" y="32.5" width="103" height="500.5" fill="url(#rows)"/>
<rect x="483" y="32.5" width="103" height="500.5" fill="url(#rows)"/>
<rect x="595" y="32.5" width="72" height="500.5" fill="url(#rows)"/>
<rect x="678" y="32.5" width="104" height="500.5" fill="url(#rows)"/>
<rect x="791" y="32.5" width="103" height="500.5" fill="url(#rows)"/>
<path class="vl" d="M103,31.5V543M107,31.5V543M135,31.5V543M139,31.5V543M217,31.5V543M221,31.5V543M247,31.5V543M251,31.5V543M329,31.5V543M332,31.5V543M411,31.5V543M415,31.5V543M443,31.5V543M447,31.5V543M523,31.5V543M527,31.5V543M555,31.5V543M559,31.5V543M636,31.5V543M640,31.5V543M720,31.5V543M724,31.5V543M754,31.5V543M757,31.5V543M835,31.5V543M837,31.5V543M866,31.5V543M869,31.5V543"/>
<path d="M63,31.5V543M166,31.5V543M175,31.5V543M278,31.5V543M287,31.5V543M359,31.5V543M371,31.5V543M474,31.5V543M483,31.5V543M586,31.5V543M595,31.5V543M667,31.5V543M678,31.5V543M782,31.5V543M791,31.5V543M894,31.5V543M49,3V543M62,3V543" fill="none" stroke="#333" stroke-width="0.9"/>
<path d="M7.5,3H894" stroke="#333" stroke-width="1"/>
<path d="M7.5,31.5H945" stroke="#333" stroke-width="1.3"/>
<path d="M7.5,543H905" stroke="#333" stroke-width="1.8"/>
<path d="M7.5,3V543" stroke="#333" stroke-width="1.6"/>
</g>

<g id="connectors">
<line x1="54" y1="363.5" x2="941" y2="363.5" stroke="#77933C" stroke-width="2" marker-start="url(#ah)" marker-end="url(#ah)"/>
</g>

<g id="title">
<rect x="200" y="514" width="603" height="32" fill="#ECEAE0"/>
<text x="244" y="540" textLength="513" lengthAdjust="spacingAndGlyphs" style="font-family:Lato,'Open Sans','Liberation Sans',sans-serif;font-size:25px;fill:#FFFF00;stroke:#FFFF00;stroke-width:0.6">General Schedule 7<tspan dy="-10" style="font-size:15px">th</tspan><tspan dy="10"> October (K. Foraz – LMC)</tspan></text>
</g>
<g id="footer">
<text x="25" y="568" style="font-size:15px;fill:#2C4770">4/2/2010</text>
<text x="480" y="567" style="font-size:14px;fill:#2C4770;text-anchor:middle">R.G.</text>
<text x="930" y="567" style="font-size:14px;fill:#2C4770;text-anchor:middle">9</text>
</g>
</svg>
